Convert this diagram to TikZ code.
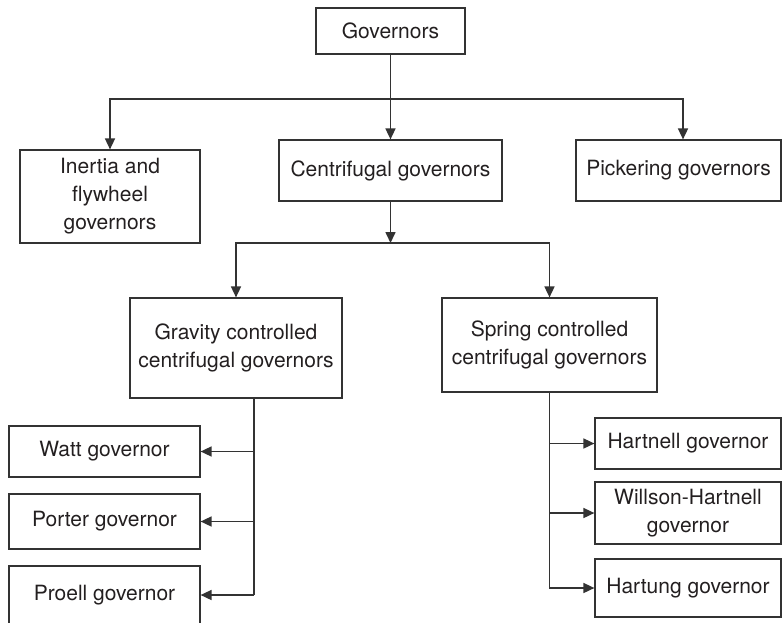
\documentclass[tikz,border=0pt]{standalone}
\usepackage{fontspec}
\setmainfont{TeX Gyre Heros}
\usepackage{tikz}
\usepackage{xcolor}
\usetikzlibrary{arrows.meta, positioning, calc}
\definecolor{GovLine}{HTML}{333333}
\definecolor{GovText}{HTML}{231F20}

\begin{document}
\begin{tikzpicture}[x=1pt, y=-1pt,
    govbox/.style={draw=GovLine, line width=1.2pt, rectangle, align=center, inner sep=0pt,
      text=GovText, font=\fontsize{21}{28}\selectfont},
    link/.style={draw=GovLine, line width=1.6pt},
    arr/.style={link, -{Triangle[length=11pt,width=10pt]}}]
  \useasboundingbox (0,0) rectangle (782,622);
  % top levels
  \node[govbox, minimum width=149pt, minimum height=46pt] (gov) at (390.5,31) {Governors};
  \node[govbox, minimum width=180pt, minimum height=93pt] (inertia) at (110,196.5) {Inertia and\\flywheel\\governors};
  \node[govbox, minimum width=223pt, minimum height=61pt] (centri) at (390.5,170.5) {Centrifugal governors};
  \node[govbox, minimum width=205pt, minimum height=61pt] (picker) at (678.5,170.5) {Pickering governors};
  \node[govbox, minimum width=212pt, minimum height=100pt] (gravity) at (236,348) {Gravity controlled\\centrifugal governors};
  \node[govbox, minimum width=215pt, minimum height=94pt] (spring) at (549.5,345) {Spring controlled\\centrifugal governors};
  % leaves
  \node[govbox, minimum width=191pt, minimum height=51pt] (watt) at (104.5,451.5) {Watt governor};
  \node[govbox, minimum width=191pt, minimum height=55pt] (porter) at (104.5,521.5) {Porter governor};
  \node[govbox, minimum width=191pt, minimum height=58pt] (proell) at (104.5,595) {Proell governor};
  \node[govbox, minimum width=186pt, minimum height=51pt] (hartnell) at (688,443.5) {Hartnell governor};
  \node[govbox, minimum width=186pt, minimum height=62pt] (willson) at (688,513) {Willson-Hartnell\\governor};
  \node[govbox, minimum width=186pt, minimum height=58pt] (hartung) at (688,588) {Hartung governor};

  \coordinate (bus) at (390.5,99);
  \coordinate (bustwo) at (390.5,243);
  \coordinate (gtop) at (254,398);
  \coordinate (gbot) at (254,595);

  \draw[arr] (gov.south) -- (centri.north);
  \draw[arr] (bus) -| (inertia.north);
  \draw[arr] (bus) -| ($(picker.north)+(4.5,0)$);
  \draw[arr] (centri.south) -- (bustwo);
  \draw[arr] (bustwo) -| (gravity.north);
  \draw[arr] (bustwo) -| (spring.north);

  \draw[link] (gtop) -- (gbot);
  \draw[arr] (watt.east -| gtop) -- (watt.east);
  \draw[arr] (porter.east -| gtop) -- (porter.east);
  \draw[arr] (gbot) -- (proell.east);

  \draw[arr] (spring.south) |- (hartung.west);
  \draw[arr] (hartnell.west -| spring.south) -- (hartnell.west);
  \draw[arr] (willson.west -| spring.south) -- (willson.west);
\end{tikzpicture}
\end{document}
